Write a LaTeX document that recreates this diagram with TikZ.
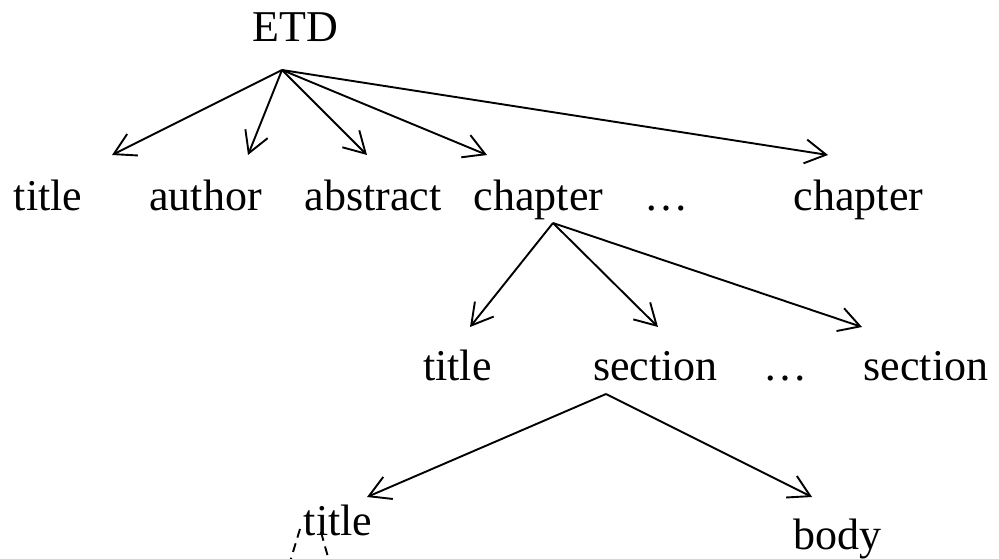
\documentclass[tikz,border=0pt]{standalone}
\usepackage{fontspec}
\setmainfont{Liberation Serif}
\usetikzlibrary{arrows.meta}
\begin{document}
\begin{tikzpicture}[x=1pt,y=-1pt,
  lbl/.style={anchor=base,inner sep=0pt,font=\fontsize{44}{50}\selectfont},
  arr/.style={line width=1.9pt,-{Straight Barb[length=21pt,width=24pt,line width=1.9pt]}},
  trunc/.style={line width=1.9pt,dash pattern=on 9pt off 6pt}]
\useasboundingbox (0,0) rectangle (999,559);
\clip (0,0) rectangle (999,559);

% labels
\node[lbl] (etd) at (295,42) {ETD};
\node[lbl] (t1) at (48,211) {title};
\node[lbl] (au) at (205.5,211) {author};
\node[lbl] (ab) at (373,211) {abstract};
\node[lbl] (ch1) at (538.5,211) {chapter};
\node[lbl] (d1) at (666,211) {…};
\node[lbl] (ch2) at (858.5,211) {chapter};
\node[lbl] (t2) at (457.5,380) {title};
\node[lbl] (se1) at (655.5,380) {section};
\node[lbl] (d2) at (785,380) {…};
\node[lbl] (se2) at (926,380) {section};
\node[lbl] (t3) at (338,535) {title};
\node[lbl] (bo) at (837,549) {body};

% connector end points
\coordinate (etd-o) at (282,70);
\coordinate (t1-i) at (112,155);
\coordinate (au-i) at (248,155);
\coordinate (ab-i) at (367,155);
\coordinate (ch1-i) at (487,155);
\coordinate (ch2-i) at (828,155);
\coordinate (ch1-o) at (553,223);
\coordinate (t2-i) at (470,327);
\coordinate (se1-i) at (658,327);
\coordinate (se2-i) at (862,327);
\coordinate (se1-o) at (606,394);
\coordinate (t3-i) at (367,497);
\coordinate (bo-i) at (812,497);
\coordinate (t3-l) at (300,529);
\coordinate (t3-r) at (321,532);
\coordinate (t3-ll) at (286,575);
\coordinate (t3-rr) at (333,575);

% connectors
\draw[arr] (etd-o) -- (t1-i);
\draw[arr] (etd-o) -- (au-i);
\draw[arr] (etd-o) -- (ab-i);
\draw[arr] (etd-o) -- (ch1-i);
\draw[arr] (etd-o) -- (ch2-i);
\draw[arr] (ch1-o) -- (t2-i);
\draw[arr] (ch1-o) -- (se1-i);
\draw[arr] (ch1-o) -- (se2-i);
\draw[arr] (se1-o) -- (t3-i);
\draw[arr] (se1-o) -- (bo-i);
\draw[trunc] (t3-l) -- (t3-ll);
\draw[trunc] (t3-r) -- (t3-rr);
\end{tikzpicture}
\end{document}
